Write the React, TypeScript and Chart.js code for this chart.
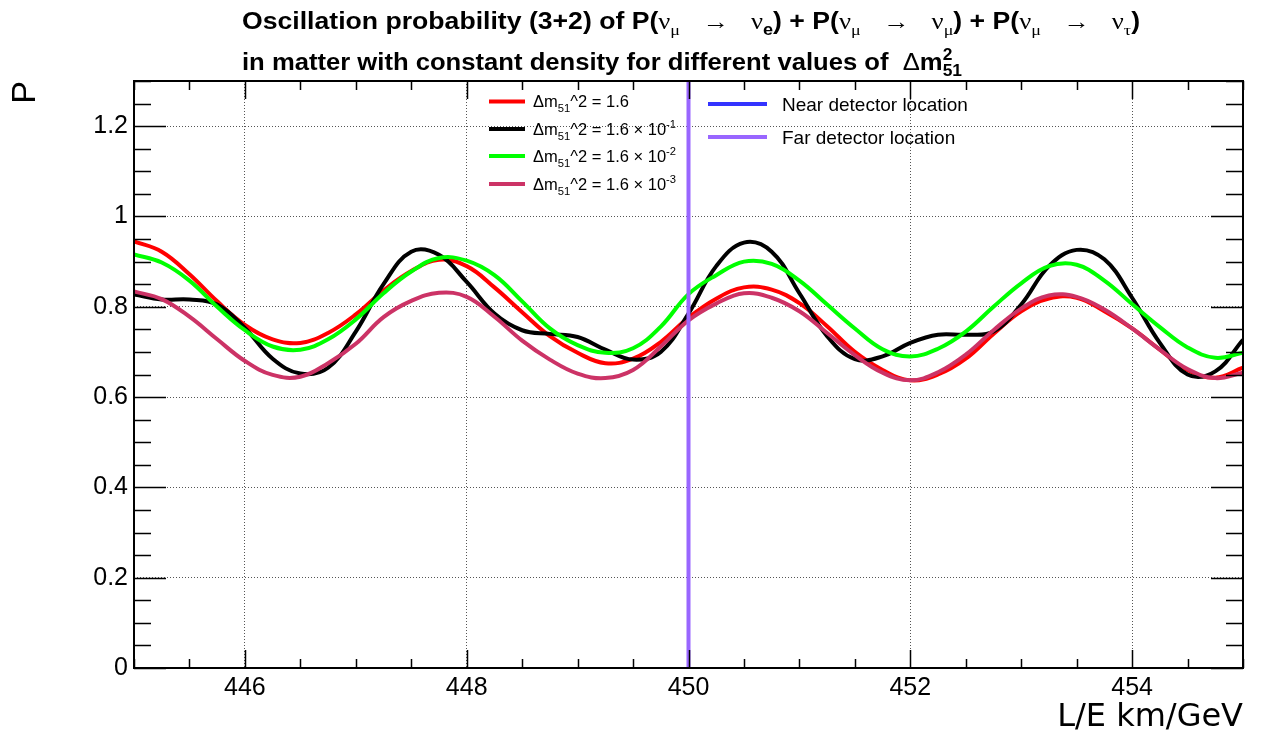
import React, { useEffect, useRef } from "react";
import { Chart, registerables } from "chart.js";

Chart.register(...registerables);

// ---------------- data ----------------
const LE = [
  445.0, 445.25, 445.5, 445.75, 446.0, 446.25, 446.5, 446.75, 447.0, 447.25, 447.5, 447.75,
  448.0, 448.25, 448.5, 448.75, 449.0, 449.25, 449.5, 449.75, 450.0, 450.25, 450.5, 450.75,
  451.0, 451.25, 451.5, 451.75, 452.0, 452.25, 452.5, 452.75, 453.0, 453.25, 453.5, 453.75,
  454.0, 454.25, 454.5, 454.75, 455.0,
];

// Δm51^2 = 1.6
const P_DM2_1_6 = [
  0.945, 0.922, 0.872, 0.812, 0.76, 0.728, 0.72, 0.742, 0.783, 0.836, 0.879, 0.904,
  0.89, 0.843, 0.788, 0.735, 0.698, 0.675, 0.685, 0.722, 0.776, 0.818, 0.843, 0.838,
  0.808, 0.757, 0.7, 0.66, 0.637, 0.65, 0.685, 0.74, 0.79, 0.818, 0.82, 0.79,
  0.752, 0.705, 0.66, 0.643, 0.665,
];

// Δm51^2 = 1.6 × 10^-1
const P_DM2_1_6E_1 = [
  0.827, 0.816, 0.816, 0.805, 0.753, 0.685, 0.652, 0.665, 0.745, 0.85, 0.922, 0.915,
  0.855, 0.785, 0.748, 0.74, 0.733, 0.705, 0.683, 0.7, 0.785, 0.89, 0.942, 0.922,
  0.83, 0.735, 0.684, 0.69, 0.72, 0.738, 0.738, 0.745, 0.805, 0.89, 0.926, 0.905,
  0.82, 0.72, 0.65, 0.657, 0.727,
];

// Δm51^2 = 1.6 × 10^-2
const P_DM2_1_6E_2 = [
  0.916, 0.898, 0.858, 0.8, 0.748, 0.712, 0.705, 0.728, 0.772, 0.83, 0.878, 0.908,
  0.902, 0.87, 0.812, 0.752, 0.715, 0.698, 0.708, 0.756, 0.828, 0.87, 0.9, 0.895,
  0.858, 0.805, 0.752, 0.706, 0.69, 0.707, 0.745, 0.8, 0.852, 0.89, 0.893, 0.858,
  0.806, 0.755, 0.71, 0.687, 0.698,
];

// Δm51^2 = 1.6 × 10^-3
const P_DM2_1_6E_3 = [
  0.834, 0.817, 0.778, 0.728, 0.68, 0.649, 0.645, 0.675, 0.718, 0.777, 0.813, 0.831,
  0.822, 0.778, 0.725, 0.683, 0.652, 0.642, 0.66, 0.712, 0.77, 0.807, 0.83, 0.82,
  0.79, 0.742, 0.693, 0.654, 0.637, 0.655, 0.694, 0.748, 0.796, 0.825, 0.822, 0.794,
  0.752, 0.705, 0.662, 0.642, 0.654,
];

const FAR_DETECTOR_LE = 450;
const DETECTOR_LINE_P = [0, 1.3];

const X_MAJOR_TICKS = [446, 448, 450, 452, 454];
const Y_MAJOR_TICKS = [0, 0.2, 0.4, 0.6, 0.8, 1, 1.2];
const X_MIN = 445;
const X_MAX = 455;
const Y_MIN = 0;
const Y_MAX = 1.3;
const X_MINOR_STEP = 0.5;
const Y_MINOR_STEP = 0.05;

const X_TITLE = "L/E km/GeV";
const Y_TITLE = "P";

// ---------------- text ----------------
type Seg = { t: string; b?: boolean; serif?: boolean; pos?: "sub" | "sup"; hold?: boolean };

const SERIES_LEGEND: Seg[][] = [
  [{ t: "Δm" }, { t: "51", pos: "sub" }, { t: "^2 = 1.6" }],
  [{ t: "Δm" }, { t: "51", pos: "sub" }, { t: "^2 = 1.6 × 10" }, { t: "-1", pos: "sup" }],
  [{ t: "Δm" }, { t: "51", pos: "sub" }, { t: "^2 = 1.6 × 10" }, { t: "-2", pos: "sup" }],
  [{ t: "Δm" }, { t: "51", pos: "sub" }, { t: "^2 = 1.6 × 10" }, { t: "-3", pos: "sup" }],
];
const SERIES_NAMES = [
  "Δm51^2 = 1.6",
  "Δm51^2 = 1.6 × 10^-1",
  "Δm51^2 = 1.6 × 10^-2",
  "Δm51^2 = 1.6 × 10^-3",
];
const DETECTOR_NAMES = ["Near detector location", "Far detector location"];

const TITLE_LINE_1: Seg[] = [
  { t: "Oscillation probability (3+2) of P(", b: true },
  { t: "ν", serif: true },
  { t: "μ", serif: true, pos: "sub" },
  { t: "   →   " },
  { t: "ν", serif: true },
  { t: "e", b: true, pos: "sub" },
  { t: ") + P(", b: true },
  { t: "ν", serif: true },
  { t: "μ", serif: true, pos: "sub" },
  { t: "   →   " },
  { t: "ν", serif: true },
  { t: "μ", serif: true, pos: "sub" },
  { t: ") + P(", b: true },
  { t: "ν", serif: true },
  { t: "μ", serif: true, pos: "sub" },
  { t: "   →   " },
  { t: "ν", serif: true },
  { t: "τ", serif: true, pos: "sub" },
  { t: ")", b: true },
];
const TITLE_LINE_2: Seg[] = [
  { t: "in matter with constant density for different values of  ", b: true },
  { t: "Δ" },
  { t: "m", b: true },
  { t: "2", b: true, pos: "sup", hold: true },
  { t: "51", b: true, pos: "sub" },
];

// ---------------- styles ----------------
const SANS = '"Liberation Sans", Arial, Helvetica, sans-serif';
const WIDE_SANS = '"DejaVu Sans", "Liberation Sans", sans-serif';
const SERIF = '"Liberation Serif", "DejaVu Serif", serif';
const SERIES_COLORS = ["#ff0000", "#000000", "#00ff00", "#cc3366"];
const NEAR_COLOR = "#3333ff";
const FAR_COLOR = "#9966ff";

function segFont(seg: Seg, size: number) {
  const s = seg.pos ? size * 0.68 : size;
  return `${seg.b ? "bold " : ""}${s}px ${seg.serif ? SERIF : SANS}`;
}
function richWidth(ctx: CanvasRenderingContext2D, segs: Seg[], size: number) {
  let w = 0;
  for (const seg of segs) {
    ctx.font = segFont(seg, size);
    if (!seg.hold) w += ctx.measureText(seg.t).width;
  }
  return w;
}
function drawRich(ctx: CanvasRenderingContext2D, segs: Seg[], x: number, y: number, size: number) {
  let cx = x;
  for (const seg of segs) {
    ctx.font = segFont(seg, size);
    const dy = seg.pos === "sub" ? size * 0.28 : seg.pos === "sup" ? -size * 0.42 : 0;
    ctx.fillText(seg.t, cx, y + dy);
    if (!seg.hold) cx += ctx.measureText(seg.t).width;
  }
}

const titlePlugin = {
  id: "rootTitle",
  afterDraw(chart: any) {
    const ctx: CanvasRenderingContext2D = chart.ctx;
    const lines = [
      { segs: TITLE_LINE_1, x: 242, y: 29, w: 898 },
      { segs: TITLE_LINE_2, x: 242, y: 70, w: 720 },
    ];
    const size = 23;
    ctx.save();
    ctx.fillStyle = "#000";
    ctx.textBaseline = "alphabetic";
    ctx.textAlign = "left";
    for (const l of lines) {
      const w = richWidth(ctx, l.segs, size);
      ctx.save();
      ctx.translate(l.x, l.y);
      ctx.scale(l.w / w, 1);
      drawRich(ctx, l.segs, 0, 0, size);
      ctx.restore();
    }
    ctx.restore();
  },
};

const legendPlugin = {
  id: "rootLegend",
  afterDraw(chart: any) {
    const ctx: CanvasRenderingContext2D = chart.ctx;
    const ds = chart.data.datasets;
    ctx.save();
    ctx.fillStyle = "#000";
    ctx.textAlign = "left";
    ctx.textBaseline = "alphabetic";
    const leftRows = [101.5, 129, 156, 184];
    SERIES_LEGEND.forEach((segs, i) => {
      const y = leftRows[i];
      ctx.strokeStyle = ds[i].borderColor;
      ctx.lineWidth = 4;
      ctx.beginPath();
      ctx.moveTo(489, y);
      ctx.lineTo(525, y);
      ctx.stroke();
      const size = 16.5;
      drawRich(ctx, segs, 533, y + size * 0.36, size);
    });
    const rightRows = [104, 137];
    DETECTOR_NAMES.forEach((name, i) => {
      const y = rightRows[i];
      ctx.strokeStyle = ds[4 + i].borderColor;
      ctx.lineWidth = 4;
      ctx.beginPath();
      ctx.moveTo(708, y);
      ctx.lineTo(767, y);
      ctx.stroke();
      const size = 19;
      ctx.font = `${size}px ${SANS}`;
      ctx.fillText(name, 782, y + size * 0.36);
    });
    ctx.restore();
  },
};

const framePlugin = {
  id: "rootFrame",
  afterDraw(chart: any) {
    const ctx: CanvasRenderingContext2D = chart.ctx;
    const a = chart.chartArea;
    const xs = chart.scales.x;
    const ys = chart.scales.y;
    ctx.save();
    ctx.strokeStyle = "#000";
    ctx.lineWidth = 1.5;
    ctx.beginPath();
    const nx = Math.round((X_MAX - X_MIN) / X_MINOR_STEP);
    for (let i = 0; i <= nx; i++) {
      const v = X_MIN + i * X_MINOR_STEP;
      const px = Math.round(xs.getPixelForValue(v)) + 0.5;
      const major = X_MAJOR_TICKS.some((m) => Math.abs(m - v) < 1e-6);
      const len = major ? 18 : 9;
      ctx.moveTo(px, a.bottom);
      ctx.lineTo(px, a.bottom - len);
      ctx.moveTo(px, a.top);
      ctx.lineTo(px, a.top + len);
    }
    const ny = Math.round((Y_MAX - Y_MIN) / Y_MINOR_STEP);
    for (let i = 0; i <= ny; i++) {
      const v = Y_MIN + i * Y_MINOR_STEP;
      const py = Math.round(ys.getPixelForValue(v)) + 0.5;
      const major = Y_MAJOR_TICKS.some((m) => Math.abs(m - v) < 1e-6);
      const len = major ? 32 : 17;
      ctx.moveTo(a.left, py);
      ctx.lineTo(a.left + len, py);
      ctx.moveTo(a.right, py);
      ctx.lineTo(a.right - len, py);
    }
    ctx.stroke();
    ctx.lineWidth = 2;
    ctx.strokeRect(a.left, a.top, a.right - a.left, a.bottom - a.top);
    ctx.restore();
  },
};

export default function App() {
  const ref = useRef<HTMLCanvasElement | null>(null);

  useEffect(() => {
    document.body.style.margin = "0";
    const canvas = ref.current;
    if (!canvas) return;
    const series = [P_DM2_1_6, P_DM2_1_6E_1, P_DM2_1_6E_2, P_DM2_1_6E_3];
    const datasets: any[] = series.map((vals, i) => ({
      label: SERIES_NAMES[i],
      data: LE.map((x, j) => ({ x, y: vals[j] })),
      borderColor: SERIES_COLORS[i],
      backgroundColor: SERIES_COLORS[i],
      borderWidth: 4,
      pointRadius: 0,
      fill: false,
      tension: 0.4,
      order: 4 - i,
    }));
    datasets.push({
      label: DETECTOR_NAMES[0],
      data: [],
      borderColor: NEAR_COLOR,
      backgroundColor: NEAR_COLOR,
      borderWidth: 4,
      pointRadius: 0,
      order: 0,
    });
    datasets.push({
      label: DETECTOR_NAMES[1],
      data: DETECTOR_LINE_P.map((y) => ({ x: FAR_DETECTOR_LE, y })),
      borderColor: FAR_COLOR,
      backgroundColor: FAR_COLOR,
      borderWidth: 4,
      pointRadius: 0,
      order: 0,
    });

    const chart = new Chart(canvas, {
      type: "line",
      data: { datasets },
      options: {
        animation: false,
        responsive: false,
        devicePixelRatio: 1,
        layout: { padding: { top: 81, right: 19, left: 0, bottom: 0 } },
        plugins: {
          legend: { display: false },
          title: { display: false },
          tooltip: { enabled: false },
        },
        elements: { point: { radius: 0 } },
        scales: {
          x: {
            type: "linear",
            min: X_MIN,
            max: X_MAX,
            afterBuildTicks: (s: any) => {
              s.ticks = X_MAJOR_TICKS.map((v) => ({ value: v }));
            },
            afterFit: (s: any) => {
              s.height = 72;
            },
            grid: { color: "#555", lineWidth: 1, drawTicks: false },
            border: { display: false, dash: [1, 2] },
            ticks: {
              font: { family: SANS, size: 25 },
              color: "#000",
              padding: 5,
              maxRotation: 0,
              autoSkip: false,
              callback: (v: any) => String(v),
            },
            title: {
              display: true,
              text: X_TITLE,
              align: "end",
              color: "#000",
              font: { family: WIDE_SANS, size: 32, lineHeight: 1 },
              padding: { top: 0, bottom: 6 },
            },
          },
          y: {
            type: "linear",
            min: Y_MIN,
            max: Y_MAX,
            afterBuildTicks: (s: any) => {
              s.ticks = Y_MAJOR_TICKS.map((v) => ({ value: v }));
            },
            afterFit: (s: any) => {
              s.width = 134;
            },
            grid: { color: "#555", lineWidth: 1, drawTicks: false },
            border: { display: false, dash: [1, 2] },
            ticks: {
              font: { family: SANS, size: 25 },
              color: "#000",
              padding: 6,
              callback: (v: any) => String(v),
            },
            title: {
              display: true,
              text: Y_TITLE,
              align: "end",
              color: "#000",
              font: { family: SANS, size: 34, lineHeight: 1 },
              padding: { top: 9, bottom: 0 },
            },
          },
        },
      } as any,
      plugins: [framePlugin, legendPlugin, titlePlugin],
    });
    return () => chart.destroy();
  }, []);

  return (
    <div style={{ width: 1262, height: 740, background: "#fff" }}>
      <canvas ref={ref} width={1262} height={740} style={{ display: "block" }} />
    </div>
  );
}
